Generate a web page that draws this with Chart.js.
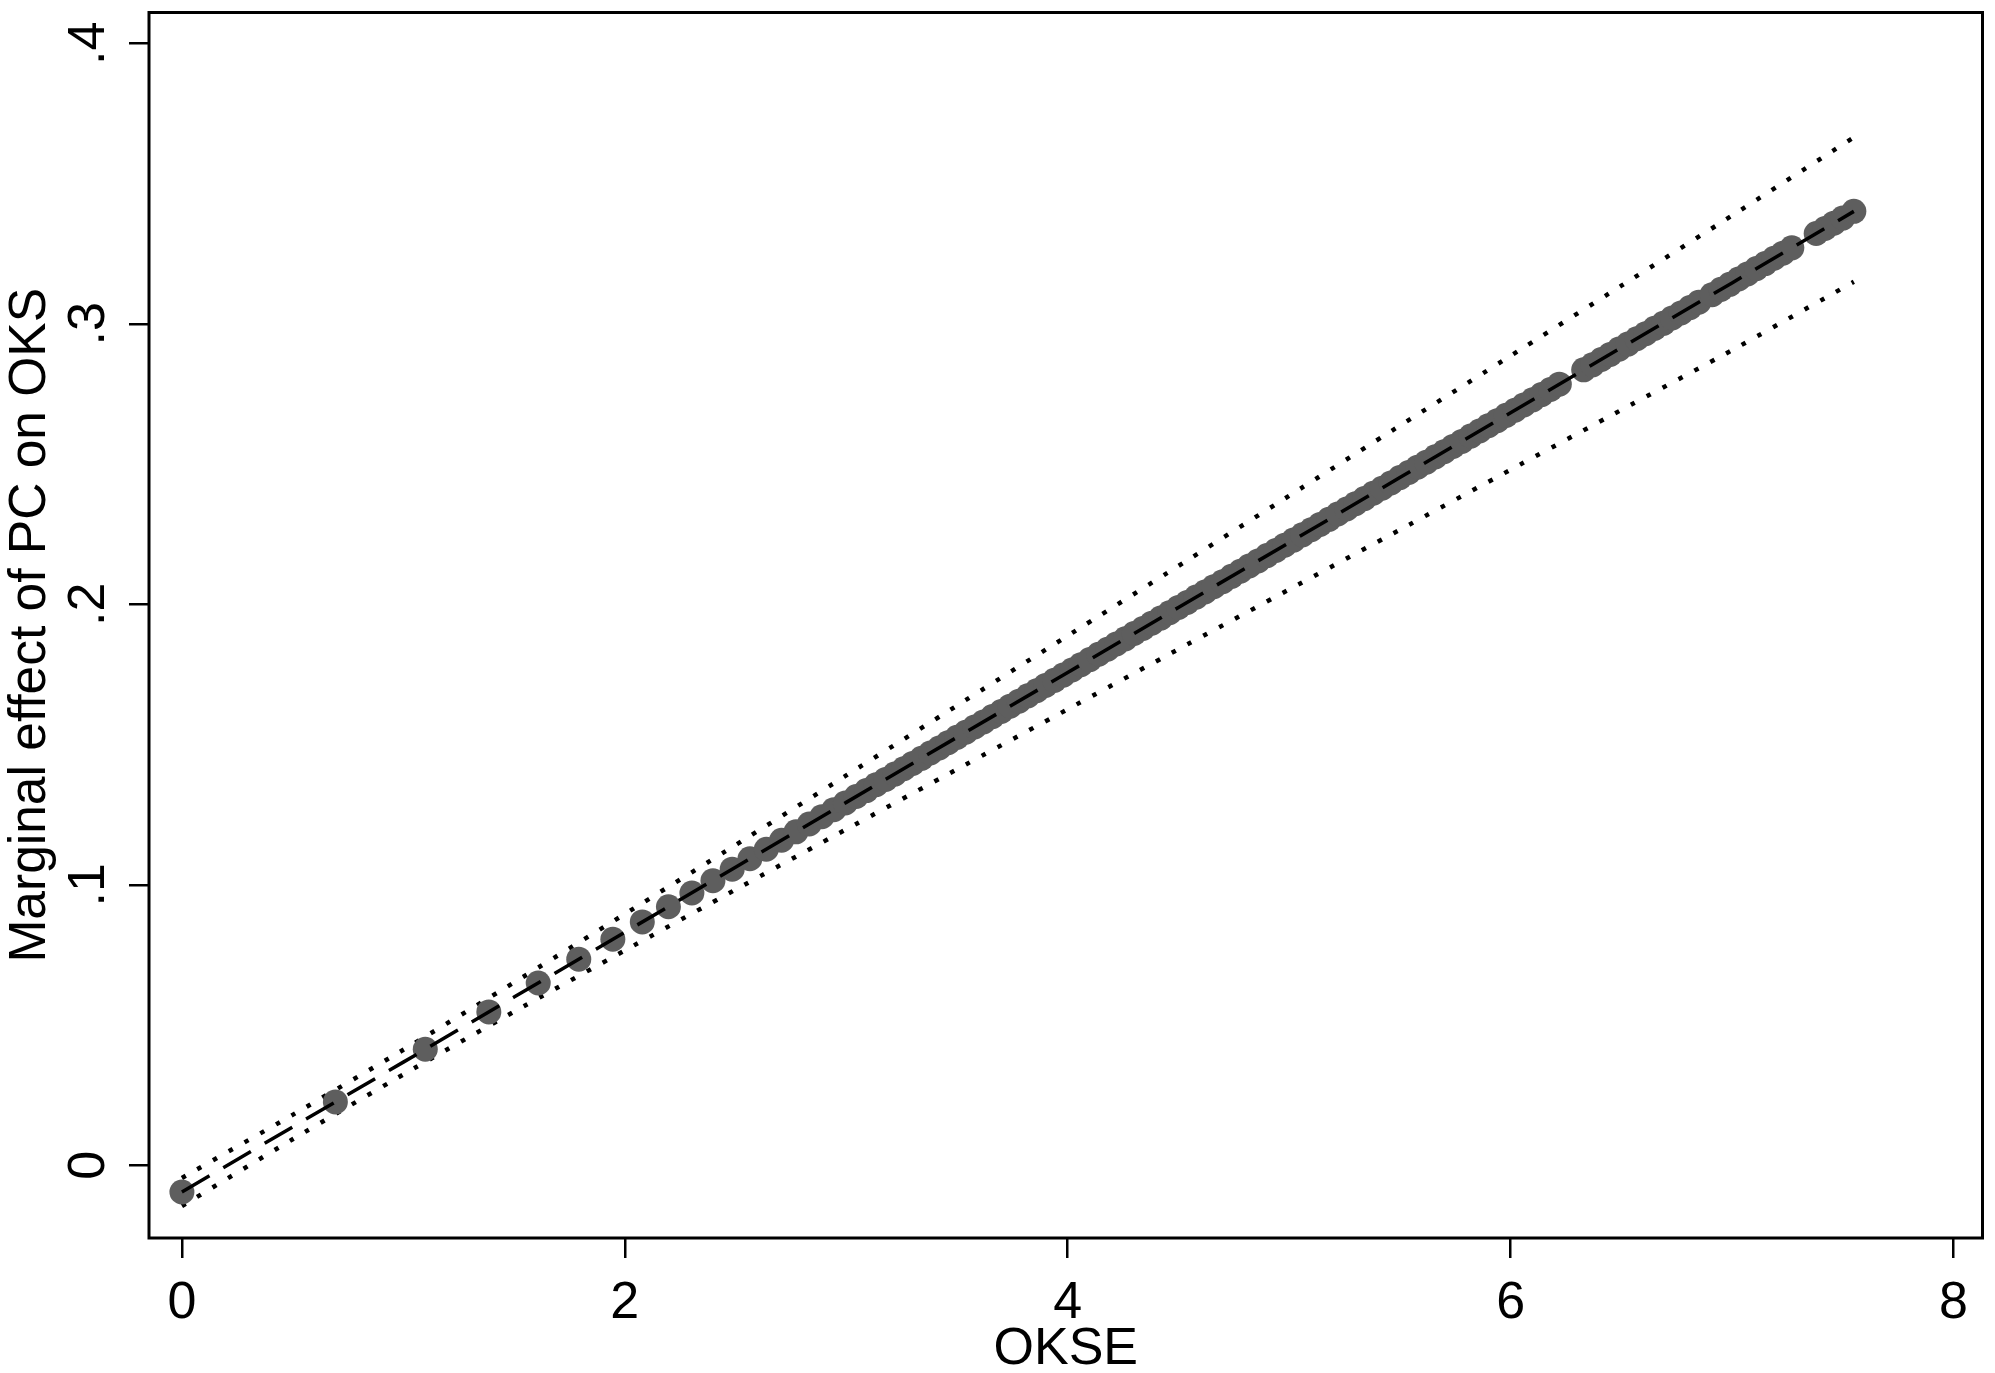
<!DOCTYPE html>
<html>
<head>
<meta charset="utf-8">
<script src="https://cdn.jsdelivr.net/npm/chart.js@4.4.1/dist/chart.umd.min.js"></script>
<style>
  html, body { margin: 0; padding: 0; background: #ffffff; }
  #wrap { width: 1995px; height: 1373px; position: relative; }
</style>
</head>
<body>
<div id="wrap"><canvas id="c"></canvas></div>
<script>
// ---- data ----
const dotX = [0, 0.693, 1.099, 1.386, 1.609, 1.792, 1.946, 2.079, 2.197, 2.303,
  2.398, 2.485, 2.565, 2.639, 2.708, 2.773, 2.833, 2.890, 2.944, 2.996,
  3.045, 3.091, 3.135, 3.178, 3.219, 3.26, 3.30, 3.34, 3.38, 3.42,
  3.46, 3.50, 3.54, 3.58, 3.62, 3.66, 3.70, 3.74, 3.78, 3.82,
  3.86, 3.90, 3.94, 3.98, 4.02, 4.06, 4.10, 4.14, 4.18, 4.22,
  4.26, 4.30, 4.34, 4.38, 4.42, 4.46, 4.50, 4.54, 4.58, 4.62,
  4.66, 4.70, 4.74, 4.78, 4.82, 4.86, 4.90, 4.94, 4.98, 5.02,
  5.06, 5.10, 5.14, 5.18, 5.22, 5.26, 5.30, 5.34, 5.38, 5.42,
  5.46, 5.50, 5.54, 5.58, 5.62, 5.66, 5.70, 5.74, 5.78, 5.82,
  5.86, 5.90, 5.94, 5.98, 6.02, 6.06, 6.10, 6.14, 6.18, 6.22,
  6.33, 6.37, 6.41, 6.45, 6.49, 6.53, 6.57, 6.61, 6.65, 6.69,
  6.73, 6.77, 6.81, 6.85, 6.91, 6.95, 6.99, 7.03, 7.07, 7.11,
  7.15, 7.19, 7.23, 7.27, 7.38, 7.42, 7.46, 7.50, 7.55];
const dotY = [-0.0095, 0.0226, 0.0414, 0.0547, 0.0650, 0.0735, 0.0806, 0.0868, 0.0922, 0.0971,
  0.1015, 0.1056, 0.1093, 0.1127, 0.1159, 0.1189, 0.1217, 0.1243, 0.1268, 0.1292,
  0.1315, 0.1336, 0.1357, 0.1376, 0.1395, 0.1414, 0.1433, 0.1451, 0.1470, 0.1488,
  0.1507, 0.1526, 0.1544, 0.1563, 0.1581, 0.1600, 0.1618, 0.1637, 0.1655, 0.1674,
  0.1692, 0.1711, 0.1729, 0.1748, 0.1766, 0.1785, 0.1803, 0.1822, 0.1840, 0.1859,
  0.1877, 0.1896, 0.1914, 0.1933, 0.1951, 0.1970, 0.1989, 0.2007, 0.2026, 0.2044,
  0.2063, 0.2081, 0.2100, 0.2118, 0.2137, 0.2155, 0.2174, 0.2192, 0.2211, 0.2229,
  0.2248, 0.2266, 0.2285, 0.2303, 0.2322, 0.2340, 0.2359, 0.2377, 0.2396, 0.2414,
  0.2433, 0.2452, 0.2470, 0.2489, 0.2507, 0.2526, 0.2544, 0.2563, 0.2581, 0.2600,
  0.2618, 0.2637, 0.2655, 0.2674, 0.2692, 0.2711, 0.2729, 0.2748, 0.2766, 0.2785,
  0.2836, 0.2854, 0.2873, 0.2891, 0.2910, 0.2928, 0.2947, 0.2965, 0.2984, 0.3002,
  0.3021, 0.3039, 0.3058, 0.3077, 0.3104, 0.3123, 0.3141, 0.3160, 0.3178, 0.3197,
  0.3215, 0.3234, 0.3252, 0.3271, 0.3322, 0.3340, 0.3359, 0.3377, 0.3401];

const curveX = [0, 0.5, 1.0, 1.5, 2.0, 2.5, 3.0, 3.5, 4.0, 4.5, 5.0, 5.5, 6.0, 6.5, 7.0, 7.55];
const fitY   = [-0.0095, 0.0137, 0.0368, 0.0600, 0.0831, 0.1063, 0.1294, 0.1526, 0.1757, 0.1989, 0.2220, 0.2452, 0.2683, 0.2915, 0.3146, 0.3401];
const upperY = [-0.0045, 0.0180, 0.0412, 0.0652, 0.0896, 0.1142, 0.1390, 0.1639, 0.1888, 0.2137, 0.2387, 0.2637, 0.2886, 0.3136, 0.3386, 0.3665];
const lowerY = [-0.0145, 0.0093, 0.0324, 0.0548, 0.0766, 0.0983, 0.1198, 0.1412, 0.1626, 0.1840, 0.2053, 0.2266, 0.2480, 0.2693, 0.2906, 0.3150];

const xTicks = [0, 2, 4, 6, 8];
const xTickLabels = ["0", "2", "4", "6", "8"];
const yTicks = [0, 0.1, 0.2, 0.3, 0.4];
const yTickLabels = ["0", ".1", ".2", ".3", ".4"];
const xTitle = "OKSE";
const yTitle = "Marginal effect of PC on OKS";

// ---- build ----
const pts = (xs, ys) => xs.map((x, i) => ({ x: x, y: ys[i] }));
const FONT = "'Liberation Sans', Arial, sans-serif";

const framePlugin = {
  id: 'frame',
  afterDraw(chart) {
    const ctx = chart.ctx;
    const a = chart.chartArea;
    ctx.save();
    ctx.strokeStyle = '#000';
    ctx.lineWidth = 3;
    ctx.strokeRect(a.left, a.top, a.right - a.left, a.bottom - a.top);
    // rotated y tick labels
    const ys = chart.scales.y;
    ctx.fillStyle = '#000';
    ctx.font = "52px " + FONT;
    ctx.textAlign = 'center';
    ctx.textBaseline = 'alphabetic';
    yTicks.forEach((v, i) => {
      const py = ys.getPixelForValue(v);
      ctx.save();
      ctx.translate(104, py);
      ctx.rotate(-Math.PI / 2);
      ctx.fillText(yTickLabels[i], 0, 0);
      ctx.restore();
    });
    ctx.restore();
  }
};

new Chart(document.getElementById('c'), {
  type: 'scatter',
  data: {
    datasets: [
      {
        label: 'fit', data: pts(curveX, fitY), showLine: true,
        borderColor: '#000', borderWidth: 3.5, borderDash: [32, 16],
        pointRadius: 0, fill: false, tension: 0
      },
      {
        label: 'points', data: pts(dotX, dotY), showLine: false,
        backgroundColor: '#5e5e5e', borderWidth: 0, pointRadius: 12.5,
        pointHoverRadius: 12.5
      },
      {
        label: 'upper', data: pts(curveX, upperY), showLine: true,
        borderColor: '#000', borderWidth: 4.5, borderDash: [4.5, 13.5],
        pointRadius: 0, fill: false, tension: 0.2
      },
      {
        label: 'lower', data: pts(curveX, lowerY), showLine: true,
        borderColor: '#000', borderWidth: 4.5, borderDash: [4.5, 13.5],
        pointRadius: 0, fill: false, tension: 0.2
      }
    ]
  },
  options: {
    responsive: true,
    maintainAspectRatio: false,
    animation: false,
    devicePixelRatio: 1,
    layout: { padding: { top: 6, right: 8, left: 0, bottom: 0 } },
    plugins: { legend: { display: false }, tooltip: { enabled: false } },
    scales: {
      x: {
        type: 'linear', min: -0.1486, max: 8.131,
        afterBuildTicks: (s) => { s.ticks = xTicks.map(v => ({ value: v })); },
        afterFit: (s) => { s.height = 135; },
        border: { display: false },
        grid: { display: true, drawOnChartArea: false, drawTicks: true, tickLength: 20, color: '#000', lineWidth: 2.5 },
        ticks: {
          color: '#000', font: { family: FONT, size: 52 }, padding: 14,
          maxRotation: 0, minRotation: 0, autoSkip: false,
          callback: (v) => { const i = xTicks.indexOf(v); return i >= 0 ? xTickLabels[i] : ''; }
        },
        title: { display: true, text: xTitle, color: '#000', font: { family: FONT, size: 52, lineHeight: 0.9 }, padding: 0 }
      },
      y: {
        type: 'linear', min: -0.0259, max: 0.4110,
        afterBuildTicks: (s) => { s.ticks = yTicks.map(v => ({ value: v })); },
        afterFit: (s) => { s.width = 149; },
        border: { display: false },
        grid: { display: true, drawOnChartArea: false, drawTicks: true, tickLength: 20, color: '#000', lineWidth: 2.5 },
        ticks: { display: false },
        title: { display: true, text: yTitle, color: '#000', font: { family: FONT, size: 51.5, lineHeight: 1.2 }, padding: 0 }
      }
    }
  },
  plugins: [framePlugin]
});
</script>
</body>
</html>
